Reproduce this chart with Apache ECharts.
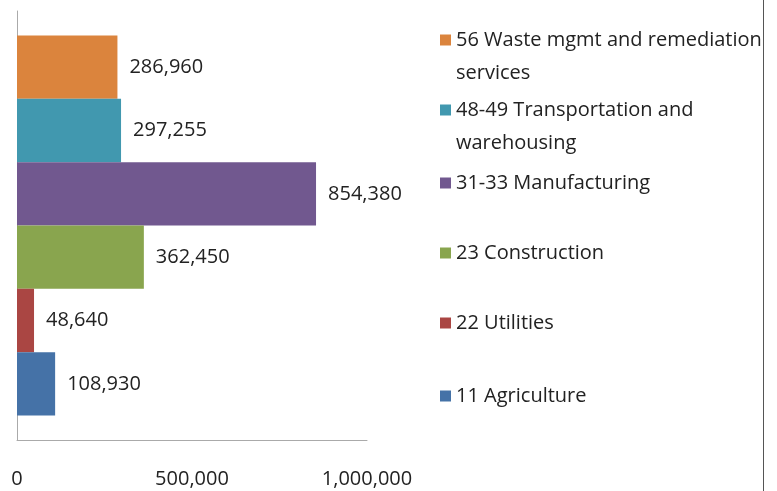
<!DOCTYPE html>
<html>
<head>
<meta charset="utf-8">
<script src="https://cdn.jsdelivr.net/npm/echarts@6/dist/echarts.min.js"></script>
<style>
  body { margin: 0; background: #fff; }
  #chart { width: 763px; height: 491px; border-right: 1px solid #555; }
</style>
</head>
<body>
<div id="chart"></div>
<script>
// 数据
var names = ['56 Waste mgmt and remediation\nservices', '48-49 Transportation and\nwarehousing', '31-33 Manufacturing', '23 Construction', '22 Utilities', '11 Agriculture'];
var values = [286960, 297255, 854380, 362450, 48640, 108930];
var colors = ['#DB843D', '#4198AF', '#71588F', '#89A54E', '#AA4643', '#4572A7'];
var xTicks = [0, 500000, 1000000];

var font = 'Open Sans';
var lineH = 33;
// 图例每一项首行的中心位置
var legendCenters = [40, 110, 183, 253, 323, 396];

var myChart = echarts.init(document.getElementById('chart'));

var series = [];
var legends = [];
for (var i = 0; i < names.length; i++) {
    series.push({
        name: names[i],
        type: 'bar',
        data: [values[i]],
        barGap: '0%',
        barCategoryGap: '11.4%',
        itemStyle: { color: colors[i] },
        label: {
            show: true,
            position: 'right',
            distance: 12,
            color: '#222',
            fontFamily: font,
            fontSize: 20,
            formatter: function (p) { return p.value.toLocaleString('en-US'); }
        }
    });
    var twoLines = names[i].indexOf('\n') >= 0;
    // 两行的图例前面加一个空行，让色块对齐第一行
    var boxH = twoLines ? lineH * 3 : lineH;
    legends.push({
        data: [names[i]],
        left: 440,
        top: legendCenters[i] - boxH / 2,
        padding: 0,
        itemWidth: 11,
        itemHeight: 11,
        icon: 'rect',
        selectedMode: false,
        formatter: twoLines ? function (n) { return ' \n' + n; } : '{name}',
        textStyle: {
            fontFamily: font,
            fontSize: 20,
            color: '#222',
            lineHeight: lineH
        }
    });
}

var option = {
    animation: false,
    grid: { left: 17, right: 396, top: 11, bottom: 51 },
    legend: legends,
    xAxis: {
        type: 'value',
        min: 0,
        max: 1000000,
        interval: 500000,
        splitLine: { show: false },
        axisLine: { show: true, lineStyle: { color: '#aaa' } },
        axisTick: { show: false },
        axisLabel: {
            margin: 29,
            color: '#222',
            fontFamily: font,
            fontSize: 20,
            formatter: function (v) { return xTicks.indexOf(v) >= 0 ? v.toLocaleString('en-US') : ''; }
        }
    },
    yAxis: {
        type: 'category',
        data: [''],
        axisLine: { show: true, lineStyle: { color: '#aaa' } },
        axisTick: { show: false },
        axisLabel: { show: false }
    },
    series: series
};

myChart.setOption(option);
</script>
</body>
</html>
